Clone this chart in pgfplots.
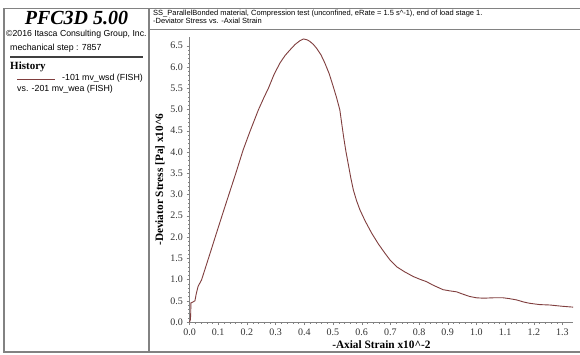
\documentclass[border=0pt]{standalone}
\usepackage{pgfplots}
\pgfplotsset{compat=1.18}
\usepackage{fontspec}
\setmainfont{Liberation Serif}
\setsansfont{Liberation Sans}
\definecolor{curve}{RGB}{128,62,62}
\definecolor{frame}{RGB}{130,130,130}
\begin{document}
\begin{tikzpicture}
\useasboundingbox[fill=white] (0pt,0pt) rectangle (580pt,354pt);
\begin{scope}[x=1pt,y=1pt]
% frames
\draw[frame,line width=1.3pt] (4,2) rectangle (582,345.5);
\draw[frame,line width=1.3pt] (149,2) -- (149,345.5);
\draw[frame,line width=1.3pt] (149,324.5) -- (582,324.5);
\draw[black!75,line width=1.2pt] (10,297) -- (143,297);
% left panel texts
\node[font=\fontsize{20}{22}\selectfont\bfseries\itshape] at (76.5,336) {PFC3D 5.00};
\node[font=\sffamily\fontsize{8.7}{10}\selectfont,anchor=west,inner sep=0] at (6,319.5) {\textcopyright 2016 Itasca Consulting Group, Inc.};
\node[font=\sffamily\fontsize{8.8}{10}\selectfont,anchor=west,inner sep=0] at (10,306) {mechanical step : 7857};
\node[font=\fontsize{11}{13}\selectfont\bfseries,anchor=west,inner sep=0] at (10,287) {History};
\draw[curve,line width=0.8pt] (17,275) -- (55,275);
\node[font=\sffamily\fontsize{8.8}{10}\selectfont,anchor=west,inner sep=0] at (62,275.5) {-101 mv\_wsd (FISH)};
\node[font=\sffamily\fontsize{8.8}{10}\selectfont,anchor=west,inner sep=0] at (17,265) {vs. -201 mv\_wea (FISH)};
% header
\node[font=\sffamily\fontsize{7.5}{8}\selectfont,anchor=west,inner sep=0] at (153,340.3) {SS\_ParallelBonded material, Compression test (unconfined, eRate = 1.5 s\^{}-1), end of load stage 1.};
\node[font=\sffamily\fontsize{7.5}{8}\selectfont,anchor=west,inner sep=0] at (153,333.3) {-Deviator Stress vs. -Axial Strain};
\end{scope}
\begin{axis}[
  at={(189.5pt,32pt)}, anchor=south west,
  scale only axis, width=383pt, height=284.75pt,
  xmin=0, xmax=1.335, ymin=0, ymax=6.7,
  axis lines=left, axis line style={frame,-},
  xtick={0,0.1,...,1.3}, ytick={0,0.5,...,6.5},
  minor x tick num=4, minor y tick num=4,
  tick align=outside, major tick length=3pt, minor tick length=1.5pt,
  tick style={frame}, 
  xticklabel style={/pgf/number format/.cd,fixed,fixed zerofill,precision=1},
  yticklabel style={/pgf/number format/.cd,fixed,fixed zerofill,precision=1},
  /pgf/number format/assume math mode=true,
  tick label style={font=\fontsize{10}{12}\selectfont, text=black!80},
  xlabel={-Axial Strain x10\^{}-2},
  ylabel={-Deviator Stress [Pa] x10\^{}6},
  label style={font=\fontsize{11.3}{13}\selectfont\bfseries},
  xlabel style={at={(axis description cs:0.501,-0.081)},anchor=center},
  ylabel style={at={(axis description cs:-0.077,0.5)},anchor=center},
  clip=false,
]
\addplot[curve, line width=0.9pt] coordinates {
(0,0) (0.003,0.05) (0.004,0.15) (0.005,0.45) (0.012,0.47) (0.019,0.50)
(0.024,0.68) (0.030,0.84) (0.042,0.99) (0.07,1.58) (0.1,2.22) (0.13,2.85) (0.16,3.47) (0.187,4.05)
(0.21,4.47) (0.24,4.99) (0.26,5.29) (0.275,5.50) (0.295,5.83) (0.315,6.09)
(0.333,6.27) (0.35,6.40) (0.368,6.53) (0.385,6.62)
(0.397,6.66) (0.41,6.64) (0.42,6.60) (0.432,6.53) (0.443,6.44) (0.458,6.29)
(0.472,6.09) (0.487,5.84) (0.501,5.54) (0.513,5.27)
(0.524,4.99) (0.531,4.65) (0.538,4.32) (0.545,4.02) (0.553,3.73) (0.562,3.40) (0.571,3.11)
(0.582,2.86) (0.594,2.64) (0.612,2.38)
(0.635,2.09) (0.658,1.84) (0.681,1.62) (0.70,1.45) (0.722,1.30) (0.75,1.18) (0.78,1.07) (0.805,1.00) (0.826,0.95)
(0.845,0.88) (0.861,0.83) (0.884,0.76) (0.91,0.73) (0.931,0.71) (0.955,0.65) (0.977,0.60) (1.0,0.57) (1.024,0.56)
(1.06,0.57) (1.093,0.57) (1.115,0.55) (1.14,0.52) (1.165,0.47) (1.186,0.44) (1.22,0.41) (1.256,0.40) (1.30,0.37) (1.337,0.35)
};
\end{axis}
\end{tikzpicture}
\end{document}
